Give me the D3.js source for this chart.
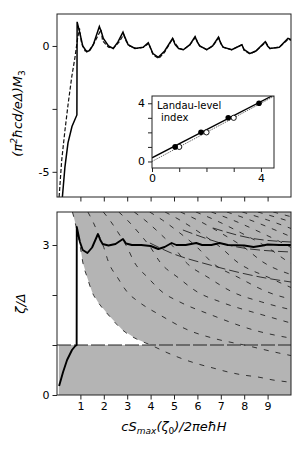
<!DOCTYPE html>
<html>
<head>
<meta charset="utf-8">
<script src="https://cdn.jsdelivr.net/npm/d3@7"></script>
<style>
  body { margin: 0; background: #fff; }
  svg { font-family: 'DejaVu Sans', sans-serif; }
</style>
</head>
<body>
<svg id="mainsvg" width="304" height="450"></svg>
<script>
// ---- data ----
const xTicks = [1, 2, 3, 4, 5, 6, 7, 8, 9];
const topYTicks = [0, -2.5, -5];
const topYLabels = ['0', '', '-5'];
const botYTicks = [0, 1, 2, 3];
const botYLabels = ['0', '', '', '3'];

// magnetization, solid and dashed
const m3Solid = [[0.23,-6.0],[0.34,-4.8],[0.47,-3.85],[0.64,-3.2],[0.85,-2.74],[0.86,0.96],[0.98,0.5],[1.1,0.0],[1.27,-0.23],[1.4,-0.18],[1.55,0.05],[1.81,0.77],[1.9,0.55],[1.98,0.3],[2.2,0.0],[2.4,-0.1],[2.6,0.15],[2.82,0.55],[2.9,0.35],[3.04,0.05],[3.33,-0.1],[3.68,-0.05],[3.9,0.13],[4.1,-0.3],[4.33,-0.45],[4.6,-0.2],[4.94,0.3],[5.05,0.05],[5.2,-0.1],[5.4,-0.15],[5.68,0.05],[5.9,0.37],[6.0,0.15],[6.1,0.0],[6.4,-0.15],[6.65,0.0],[6.9,0.35],[7.0,0.1],[7.1,-0.05],[7.47,-0.15],[7.9,0.05],[8.0,-0.15],[8.25,-0.3],[8.5,-0.2],[8.9,0.17],[9.0,0.0],[9.1,-0.1],[9.5,-0.05],[9.87,0.3],[10.0,0.25]];
const m3Dashed = [[0.09,-6.0],[0.2,-4.55],[0.34,-3.35],[0.48,-2.27],[0.63,-1.23],[0.77,-0.44],[0.87,0.24],[0.96,0.7],[1.05,0.1],[1.2,-0.2],[1.35,-0.2],[1.55,0.05],[1.8,0.5],[1.88,0.65],[1.95,0.2],[2.2,-0.05],[2.4,-0.1],[2.65,0.15],[2.85,0.45],[2.95,0.2],[3.1,0.0],[3.4,-0.1],[3.7,-0.05],[3.92,0.1],[4.1,-0.35],[4.35,-0.5],[4.6,-0.25],[4.95,0.3],[5.05,0.1],[5.2,-0.08],[5.4,-0.15],[5.68,0.05],[5.92,0.35],[6.02,0.12],[6.1,0.0],[6.4,-0.15],[6.65,0.0],[6.92,0.32],[7.02,0.08],[7.1,-0.05],[7.47,-0.15],[7.9,0.05],[8.0,-0.18],[8.25,-0.32],[8.5,-0.2],[8.92,0.15],[9.02,0.0],[9.1,-0.1],[9.5,-0.05],[9.9,0.28],[10.0,0.22]];

// chemical potential
const zeta = [[0.09,0.18],[0.26,0.46],[0.43,0.7],[0.64,0.9],[0.78,0.98],[0.84,1.0],[0.845,3.36],[0.98,3.06],[1.1,2.9],[1.3,2.84],[1.5,2.95],[1.75,3.22],[1.85,3.1],[1.95,3.02],[2.2,2.99],[2.5,3.02],[2.82,3.12],[2.95,3.03],[3.2,3.0],[3.6,3.0],[4.0,2.98],[4.33,2.92],[4.6,2.96],[4.9,3.04],[5.1,3.0],[5.5,3.0],[5.95,3.04],[6.2,3.0],[6.6,3.0],[6.95,3.04],[7.3,3.0],[8.0,2.99],[8.4,2.96],[8.8,2.99],[9.0,3.01],[9.5,3.0],[10,3.0]];

// lowest Landau level (also edge of shaded area); level n sits at x*n
const level1 = [[0.66,3.66],[0.75,3.5],[0.875,3.24],[1.0,2.95],[1.1,2.66],[1.3,2.34],[1.5,2.06],[1.75,1.86],[2.2,1.6],[2.8,1.3],[3.4,1.12],[4.0,1.0],[4.74,0.84],[5.38,0.72],[6.03,0.62],[6.67,0.54],[7.31,0.46],[7.95,0.40],[8.59,0.36],[9.23,0.30],[9.87,0.26],[10.0,0.25]];
const levels = [1, 2, 3, 4, 5, 6, 7, 8, 9, 10, 11, 12, 13, 14];

// longer-dashed curves in the upper right
const upperA = [[3.97,3.04],[4.83,2.85],[6.54,2.6],[8.68,2.36],[10,2.26]];
const upperB = [[5.38,3.3],[7.7,2.96],[10,2.86]];
const upperC = [[6.67,3.34],[8.25,3.14],[10,3.06]];

// inset: Landau-level index
const insetTicks = [0, 1, 2, 3, 4];
const insetLabels = ['0', '', '', '', '4'];
const filledX = [0.85, 1.8, 2.8, 3.93];
const filledY = [1, 2, 3, 4];
const openX = [1.0, 2.0, 3.0];
const openY = [1, 2, 3];
const fitSolid = [[0, 0.25], [4.5, 4.6]];
const fitDotted = [[0, 0.0], [4.5, 4.5]];

// ---- layout ----
const svg = d3.select('#mainsvg');
const left = 57, right = 291;
const topPanel = { top: 14, bottom: 197 };
const botPanel = { top: 212, bottom: 395 };

const x = d3.scaleLinear().domain([0, 10]).range([left, right]);
const yTop = d3.scaleLinear().domain([-6, 1.27]).range([topPanel.bottom, topPanel.top]);
const yBot = d3.scaleLinear().domain([0, 3.66]).range([botPanel.bottom, botPanel.top]);

const defs = svg.append('defs');
defs.append('clipPath').attr('id', 'clipTop').append('rect')
  .attr('x', left).attr('y', topPanel.top).attr('width', right - left).attr('height', topPanel.bottom - topPanel.top);
defs.append('clipPath').attr('id', 'clipBot').append('rect')
  .attr('x', left).attr('y', botPanel.top).attr('width', right - left).attr('height', botPanel.bottom - botPanel.top);

const line = (sx, sy) => d3.line().x(d => sx(d[0])).y(d => sy(d[1]));

// ---- top panel ----
const gTop = svg.append('g').attr('clip-path', 'url(#clipTop)');
gTop.append('path').datum(m3Dashed)
  .attr('d', line(x, yTop)).attr('fill', 'none')
  .attr('stroke', '#111').attr('stroke-width', 1.2).attr('stroke-dasharray', '4,2');
gTop.append('path').datum(m3Solid)
  .attr('d', line(x, yTop)).attr('fill', 'none')
  .attr('stroke', '#000').attr('stroke-width', 1.5);

svg.append('g')
  .attr('transform', `translate(0,${topPanel.bottom})`)
  .call(d3.axisBottom(x).tickValues(xTicks).tickSize(4.5).tickFormat(''))
  .call(g => g.select('.domain').remove());
svg.append('g')
  .attr('transform', `translate(${left},0)`)
  .call(d3.axisLeft(yTop).tickValues(topYTicks).tickSize(4.5).tickPadding(3)
    .tickFormat((d, i) => topYLabels[i]))
  .call(g => g.select('.domain').remove());
svg.append('rect')
  .attr('x', left).attr('y', topPanel.top)
  .attr('width', right - left).attr('height', topPanel.bottom - topPanel.top)
  .attr('fill', 'none').attr('stroke', '#222').attr('stroke-width', 1);

// inset
const inset = { left: 152, right: 274, top: 96, bottom: 168 };
const xi = d3.scaleLinear().domain([0, 4.48]).range([inset.left, inset.right]);
const yi = d3.scaleLinear().domain([-0.45, 4.5]).range([inset.bottom, inset.top]);
defs.append('clipPath').attr('id', 'clipInset').append('rect')
  .attr('x', inset.left).attr('y', inset.top)
  .attr('width', inset.right - inset.left).attr('height', inset.bottom - inset.top);
svg.append('rect')
  .attr('x', inset.left).attr('y', inset.top)
  .attr('width', inset.right - inset.left).attr('height', inset.bottom - inset.top)
  .attr('fill', '#fff');
const gIn = svg.append('g').attr('clip-path', 'url(#clipInset)');
gIn.append('path').datum(fitDotted).attr('d', line(xi, yi))
  .attr('fill', 'none').attr('stroke', '#444').attr('stroke-width', 0.8).attr('stroke-dasharray', '1.5,1');
gIn.append('path').datum(fitSolid).attr('d', line(xi, yi))
  .attr('fill', 'none').attr('stroke', '#000').attr('stroke-width', 1.3);
gIn.selectAll('circle.open').data(openX).join('circle')
  .attr('class', 'open')
  .attr('cx', d => xi(d)).attr('cy', (d, i) => yi(openY[i])).attr('r', 2.6)
  .attr('fill', '#fff').attr('stroke', '#000').attr('stroke-width', 0.9);
gIn.selectAll('circle.filled').data(filledX).join('circle')
  .attr('class', 'filled')
  .attr('cx', d => xi(d)).attr('cy', (d, i) => yi(filledY[i])).attr('r', 2.8)
  .attr('fill', '#000');
svg.append('text').attr('x', inset.left + 5).attr('y', inset.top + 13)
  .attr('font-size', 10).text('Landau-level');
svg.append('text').attr('x', inset.left + 9).attr('y', inset.top + 25)
  .attr('font-size', 10).text('index');
svg.append('g')
  .attr('transform', `translate(0,${inset.bottom})`)
  .call(d3.axisBottom(xi).tickValues(insetTicks).tickSize(4).tickPadding(2)
    .tickFormat((d, i) => insetLabels[i]))
  .call(g => g.select('.domain').remove());
svg.append('g')
  .attr('transform', `translate(${inset.left},0)`)
  .call(d3.axisLeft(yi).tickValues(insetTicks).tickSize(4).tickPadding(3)
    .tickFormat((d, i) => insetLabels[i]))
  .call(g => g.select('.domain').remove());
svg.append('rect')
  .attr('x', inset.left).attr('y', inset.top)
  .attr('width', inset.right - inset.left).attr('height', inset.bottom - inset.top)
  .attr('fill', 'none').attr('stroke', '#222').attr('stroke-width', 1);

// ---- bottom panel ----
const gBot = svg.append('g').attr('clip-path', 'url(#clipBot)');
const edge = level1.filter(d => d[1] >= 1);
const shade = [[0.08, 0], [0.08, 1]]
  .concat(edge.slice().reverse())
  .concat([[10, 3.66], [10, 0]]);
gBot.append('path').datum(shade)
  .attr('d', d => line(x, yBot)(d) + 'Z')
  .attr('fill', '#b4b4b4').attr('stroke', 'none');

gBot.selectAll('path.level').data(levels).join('path')
  .attr('class', 'level')
  .attr('d', n => line(x, yBot).curve(d3.curveMonotoneX)(level1.map(d => [d[0] * n, d[1]])))
  .attr('fill', 'none').attr('stroke', '#222').attr('stroke-width', 0.9)
  .attr('stroke-dasharray', '5,7');

gBot.selectAll('path.upper').data([upperA, upperB, upperC]).join('path')
  .attr('class', 'upper')
  .attr('d', line(x, yBot).curve(d3.curveMonotoneX))
  .attr('fill', 'none').attr('stroke', '#222').attr('stroke-width', 0.9)
  .attr('stroke-dasharray', '10,4');

gBot.append('path').datum([[0, 1], [10, 1]])
  .attr('d', line(x, yBot)).attr('fill', 'none')
  .attr('stroke', '#222').attr('stroke-width', 1).attr('stroke-dasharray', '14,3');

gBot.append('path').datum(zeta)
  .attr('d', line(x, yBot)).attr('fill', 'none')
  .attr('stroke', '#000').attr('stroke-width', 1.9).attr('stroke-linejoin', 'round');

svg.append('g')
  .attr('transform', `translate(0,${botPanel.bottom})`)
  .call(d3.axisBottom(x).tickValues(xTicks).tickSize(4.5).tickPadding(3))
  .call(g => g.select('.domain').remove());
svg.append('g')
  .attr('transform', `translate(${left},0)`)
  .call(d3.axisLeft(yBot).tickValues(botYTicks).tickSize(4.5).tickPadding(3)
    .tickFormat((d, i) => botYLabels[i]))
  .call(g => g.select('.domain').remove());
svg.append('rect')
  .attr('x', left).attr('y', botPanel.top)
  .attr('width', right - left).attr('height', botPanel.bottom - botPanel.top)
  .attr('fill', 'none').attr('stroke', '#222').attr('stroke-width', 1);

svg.selectAll('.tick text').attr('font-size', 11).attr('font-family', 'DejaVu Sans').attr('fill', '#000');
svg.selectAll('.tick line').attr('stroke', '#222');

// axis labels
const yLab1 = svg.append('text')
  .attr('transform', `translate(22,${(topPanel.top + topPanel.bottom) / 2 + 8}) rotate(-90)`)
  .attr('text-anchor', 'middle').attr('font-size', 13).attr('font-style', 'italic');
yLab1.append('tspan').text('(π');
yLab1.append('tspan').attr('dy', -5).attr('font-size', 9).text('2');
yLab1.append('tspan').attr('dy', 5).text('ħcd/eΔ)M');
yLab1.append('tspan').attr('dy', 3).attr('font-size', 9).attr('font-style', 'normal').text('3');

svg.append('text')
  .attr('transform', `translate(25,${(botPanel.top + botPanel.bottom) / 2}) rotate(-90)`)
  .attr('text-anchor', 'middle').attr('font-size', 13).attr('font-style', 'italic')
  .text('ζ/Δ');

const xLab = svg.append('text')
  .attr('x', (left + right) / 2).attr('y', 431)
  .attr('text-anchor', 'middle').attr('font-size', 13).attr('font-style', 'italic');
xLab.append('tspan').text('cS');
xLab.append('tspan').attr('dy', 3).attr('font-size', 9).text('max');
xLab.append('tspan').attr('dy', -3).text('(ζ');
xLab.append('tspan').attr('dy', 3).attr('font-size', 9).attr('font-style', 'normal').text('0');
xLab.append('tspan').attr('dy', -3).text(')/2πeħH');
</script>
</body>
</html>
